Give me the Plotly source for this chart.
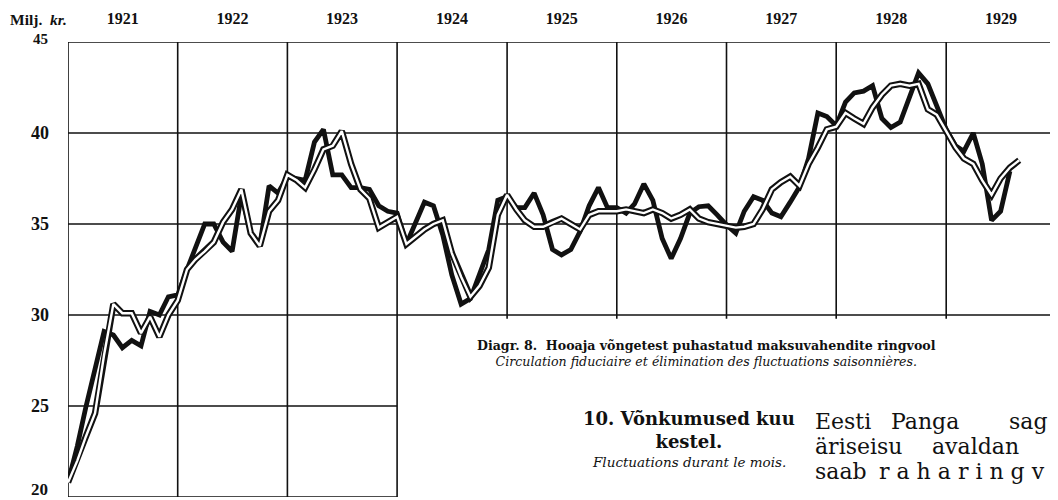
import plotly.graph_objects as go
import pandas as pd

# ---- data (Milj. kr., monthly from Jan 1921) ----
start_month = "1921-01-01"

actual = [  # thick black line
    20.8, 22.8, 24.9, 27.0, 29.1, 28.9, 28.2, 28.6, 28.3, 30.2, 30.0, 31.0,   # 1921
    31.1, 32.5, 33.7, 35.0, 35.0, 34.0, 33.5, 36.6, 34.5, 33.8, 37.1, 36.7,   # 1922
    37.6, 37.5, 37.4, 39.5, 40.2, 37.7, 37.7, 37.0, 37.0, 36.9, 36.0, 35.7,   # 1923
    35.6, 33.9, 35.0, 36.2, 36.0, 34.4, 32.2, 30.6, 30.9, 32.3, 33.6, 36.3,   # 1924
    36.5, 35.9, 35.9, 36.7, 35.5, 33.6, 33.3, 33.6, 34.6, 36.0, 37.0, 35.9,   # 1925
    35.9, 35.6, 36.1, 37.2, 36.3, 34.2, 33.1, 34.2, 35.6, 35.95, 36.0, 35.5,  # 1926
    34.95, 34.5, 35.7, 36.5, 36.3, 35.6, 35.4, 36.2, 37.05, 38.6, 41.1, 40.9, # 1927
    40.4, 41.7, 42.2, 42.3, 42.6, 40.8, 40.3, 40.6, 42.0, 43.3, 42.7, 41.5,   # 1928
    40.2, 39.3, 39.0, 40.0, 38.3, 35.2, 35.7, 37.9,                           # 1929
]

adjusted = [  # double (outlined) line, seasonal fluctuations eliminated
    20.8, 22.0, 23.3, 24.6, 27.8, 30.6, 30.1, 30.1, 29.0, 29.9, 28.8, 30.0,   # 1921
    30.8, 32.5, 33.05, 33.5, 34.0, 35.1, 35.8, 36.9, 34.5, 33.8, 35.7, 36.3,  # 1922
    37.7, 37.4, 37.0, 38.0, 39.1, 39.3, 40.1, 38.3, 36.9, 36.4, 34.8, 35.1,   # 1923
    35.4, 33.9, 34.3, 34.7, 35.0, 35.2, 33.4, 32.1, 31.0, 31.6, 32.6, 35.5,   # 1924
    36.6, 35.8, 35.2, 34.85, 34.85, 35.1, 35.3, 35.0, 34.7, 35.5, 35.7, 35.7, # 1925
    35.7, 35.8, 35.7, 35.6, 35.8, 35.6, 35.3, 35.5, 35.8, 35.3, 35.1, 35.0,   # 1926
    34.9, 34.8, 34.85, 35.0, 35.8, 36.9, 37.3, 37.6, 37.1, 38.3, 39.2, 40.2,  # 1927
    40.35, 41.1, 40.8, 40.5, 41.4, 42.1, 42.6, 42.7, 42.6, 42.7, 41.3, 41.0,  # 1928
    40.1, 39.2, 38.6, 38.3, 37.4, 36.6, 37.5, 38.1, 38.5,                     # 1929
]

years = ["1921", "1922", "1923", "1924", "1925", "1926", "1927", "1928", "1929"]
y_ticks = [25, 30, 35, 40]        # drawn by the axis; 20 and 45 sit off their lines
y_bottom_label = "20"
y_top_label = "45"

x_act = pd.date_range(start_month, periods=len(actual), freq="MS")
x_adj = pd.date_range(start_month, periods=len(adjusted), freq="MS")

X_END = "1930-01-08"
SERIF = "Liberation Serif"
DSERIF = "DejaVu Serif"
INK = "#111111"

fig = go.Figure()

fig.add_trace(go.Scatter(x=x_act, y=actual, mode="lines",
                         line=dict(color=INK, width=4.8), hoverinfo="skip"))
fig.add_trace(go.Scatter(x=x_adj, y=adjusted, mode="lines",
                         line=dict(color=INK, width=6.5), hoverinfo="skip"))
fig.add_trace(go.Scatter(x=x_adj, y=adjusted, mode="lines",
                         line=dict(color="white", width=2.4), hoverinfo="skip"))

# ---- grid (partial, as printed) ----
shapes = []
gl = dict(color=INK, width=1.6)
for yv in [45, 40, 35, 30]:
    shapes.append(dict(type="line", xref="x", yref="y", x0="1921-01-01", x1=X_END,
                       y0=yv, y1=yv, line=gl, layer="below"))
for yv in [25, 20]:
    shapes.append(dict(type="line", xref="x", yref="y", x0="1921-01-01", x1="1924-01-01",
                       y0=yv, y1=yv, line=gl, layer="below"))
for yr in [1921, 1922, 1923, 1924]:
    shapes.append(dict(type="line", xref="x", yref="y", x0=f"{yr}-01-01", x1=f"{yr}-01-01",
                       y0=20, y1=45, line=gl, layer="below"))
for yr in [1925, 1926, 1927, 1928, 1929]:
    shapes.append(dict(type="line", xref="x", yref="y", x0=f"{yr}-01-01", x1=f"{yr}-01-01",
                       y0=29.8, y1=45, line=gl, layer="below"))

# page coordinates -> paper coordinates (plot area spans x 68..1058, y 42..497 on the page)
annotations = []
def put(px, py, s, size, family=SERIF, xanchor="left"):
    annotations.append(dict(
        xref="paper", yref="paper",
        x=(px - 68) / 990.0, y=(497 - py) / 455.0,
        xanchor=xanchor, yanchor="middle", text=s, showarrow=False,
        font=dict(family=family, size=size, color=INK)))

put(8, 19.5, "<b>Milj.&nbsp; <i>kr.</i></b>", 15.5)
put(50, 39, f"<b>{y_top_label}</b>", 15, xanchor="right")
put(50, 489, f"<b>{y_bottom_label}</b>", 17, xanchor="right")
put(706, 353, "<b>Diagr. 8.  Hooaja võngetest puhastatud maksuvahendite ringvool</b><br>"
              "<i>Circulation fiduciaire et élimination des fluctuations saisonnières.</i>",
    12.6, family=DSERIF, xanchor="center")
put(689, 430, "<b>10. Võnkumused kuu<br>kestel.</b>", 18, family=DSERIF, xanchor="center")
put(689, 462, "<i>Fluctuations durant le mois.</i>", 13.5, family=DSERIF, xanchor="center")
body = "DejaVu Serif"
put(813, 421, "Eesti", 22, family=body)
put(889, 421, "Panga", 22, family=body)
put(1007, 421, "sag", 22, family=body)
put(813, 446, "äriseisu", 22, family=body)
put(930, 446, "avaldan", 22, family=body)
put(813, 471, "saab", 22, family=body)
put(877, 471, "r a h a r i n g v", 22, family=body)

mid_years = [f"{y}-07-02" for y in years]

# the page body has an 8px default margin, so the figure starts at (8, 8)
fig.update_layout(
    width=1050, height=492,
    margin=dict(l=60, r=0, t=34, b=3, pad=0, autoexpand=False),
    paper_bgcolor="white", plot_bgcolor="white",
    showlegend=False,
    shapes=shapes, annotations=annotations,
    xaxis=dict(type="date", range=["1921-01-01", X_END], side="top", automargin=False,
               tickvals=mid_years, ticktext=[f"<b>{y}</b>" for y in years],
               showgrid=False, zeroline=False, showline=False, ticks="",
               ticklabelstandoff=14, ticklabeloverflow="allow",
               tickfont=dict(family=SERIF, size=16, color=INK)),
    yaxis=dict(range=[20, 45], tickvals=y_ticks, ticktext=[f"<b>{v}</b>" for v in y_ticks],
               automargin=False,
               showgrid=False, zeroline=False, showline=False, ticks="",
               ticklabelstandoff=18, ticklabeloverflow="allow",
               tickfont=dict(family=SERIF, size=18, color=INK)),
)

fig.write_html("out.html")
